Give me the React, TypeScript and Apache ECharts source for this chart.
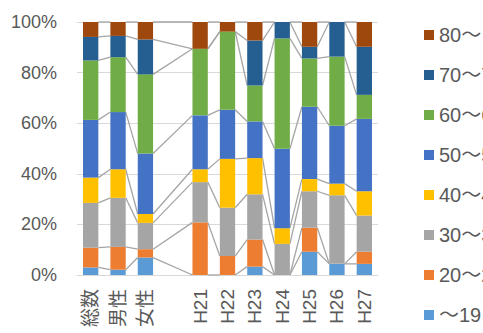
import React, { useEffect, useRef } from "react";
import * as echarts from "echarts";

const categories = ["総数", "男性", "女性", "", "H21", "H22", "H23", "H24", "H25", "H26", "H27"];
const seriesNames = ["～19", "20～29", "30～39", "40～49", "50～59", "60～69", "70～79", "80～"];
const seriesColors = ["#5B9BD5", "#ED7D31", "#A5A5A5", "#FFC000", "#4472C4", "#70AD47", "#255E91", "#9E480E"];

const s19 = [3.0, 2.1, 6.9, null, 0, 0, 3.3, 0, 9.2, 4.4, 4.4];
const s20 = [7.8, 9.0, 3.3, null, 20.8, 7.5, 10.7, 0, 9.5, 0, 4.8];
const s30 = [17.7, 19.4, 10.4, null, 15.9, 19.1, 17.9, 12.3, 14.4, 27.1, 14.3];
const s40 = [10.0, 11.3, 3.5, null, 5.1, 19.3, 14.3, 6.2, 4.8, 4.6, 9.6];
const s50 = [22.8, 22.6, 23.9, null, 21.3, 19.4, 14.5, 31.4, 28.6, 22.9, 28.6];
const s60 = [23.5, 21.7, 31.3, null, 26.3, 30.9, 14.2, 43.6, 19.1, 27.3, 9.5];
const s70 = [9.3, 8.4, 13.8, null, 0, 0, 17.8, 6.5, 4.6, 13.7, 19.0];
const s80 = [5.9, 5.5, 6.9, null, 10.6, 3.8, 7.3, 0, 9.8, 0, 9.8];

const allSeries = [s19, s20, s30, s40, s50, s60, s70, s80];

const yTicks = [0, 20, 40, 60, 80, 100];

const FONT = '"Liberation Sans", Arial, "Noto Sans CJK JP", sans-serif';
const TEXT_COLOR = "#595959";
const BAR_FRAC = 0.56;

function cumulative(idx: number, k: number): number {
  let s = 0;
  for (let m = 0; m <= k; m++) s += (allSeries[m][idx] as number) || 0;
  return s;
}

export default function App() {
  const ref = useRef<HTMLDivElement>(null);
  useEffect(() => {
    if (!ref.current) return;
    const chart = echarts.init(ref.current, undefined, { renderer: "svg" });

    const valid = categories.map((c, i) => (c !== "" ? i : -1)).filter((i) => i >= 0);
    const pairs: number[][] = [];
    for (let t = 0; t < valid.length - 1; t++) pairs.push([valid[t], valid[t + 1]]);

    const barSeries = allSeries.map((data, k) => ({
      name: seriesNames[k],
      type: "bar",
      stack: "total",
      barWidth: BAR_FRAC * 100 + "%",
      itemStyle: { color: seriesColors[k] },
      data: data.map((v) => (v === null ? "-" : v)),
      z: 3,
    }));

    const linesSeries = {
      type: "custom",
      silent: true,
      z: 2,
      data: pairs.map((p) => [p[0], 0]),
      renderItem: (params: any, api: any) => {
        const [i, j] = pairs[params.dataIndex];
        const hw = (api.size([1, 0])[0] * BAR_FRAC) / 2;
        const children: any[] = [];
        for (let k = 0; k < allSeries.length; k++) {
          const a = api.coord([i, cumulative(i, k)]);
          const b = api.coord([j, cumulative(j, k)]);
          children.push({
            type: "line",
            shape: { x1: a[0] + hw, y1: a[1], x2: b[0] - hw, y2: b[1] },
            style: { stroke: "#A5A5A5", lineWidth: 1.3 },
          });
        }
        return { type: "group", children };
      },
    };

    chart.setOption({
      animation: false,
      textStyle: { fontFamily: FONT },
      grid: { left: 77, right: 105, top: 22, bottom: 58, containLabel: false },
      legend: {
        orient: "vertical",
        left: 419,
        top: 20,
        height: 313,
        icon: "rect",
        itemWidth: 10,
        itemHeight: 10,
        itemGap: 20,
        data: [...seriesNames].reverse(),
        textStyle: { color: TEXT_COLOR, fontSize: 20, lineHeight: 20, fontFamily: FONT },
      },
      xAxis: {
        type: "category",
        data: categories,
        axisLine: { show: true, lineStyle: { color: "#D9D9D9", width: 1 } },
        axisTick: { show: false },
        axisLabel: {
          rotate: 90,
          interval: 0,
          margin: 14,
          color: TEXT_COLOR,
          fontSize: 19,
          fontFamily: FONT,
        },
      },
      yAxis: {
        type: "value",
        min: yTicks[0],
        max: yTicks[yTicks.length - 1],
        interval: 20,
        axisLine: { show: false },
        axisTick: { show: false },
        splitLine: { lineStyle: { color: "#D9D9D9", width: 1 } },
        axisLabel: {
          formatter: "{value}%",
          margin: 20,
          color: TEXT_COLOR,
          fontSize: 18,
          fontFamily: FONT,
        },
      },
      series: [linesSeries, ...barSeries],
    });
    return () => chart.dispose();
  }, []);
  return <div ref={ref} style={{ width: 483, height: 333, position: "absolute", left: 0, top: 0 }} />;
}
